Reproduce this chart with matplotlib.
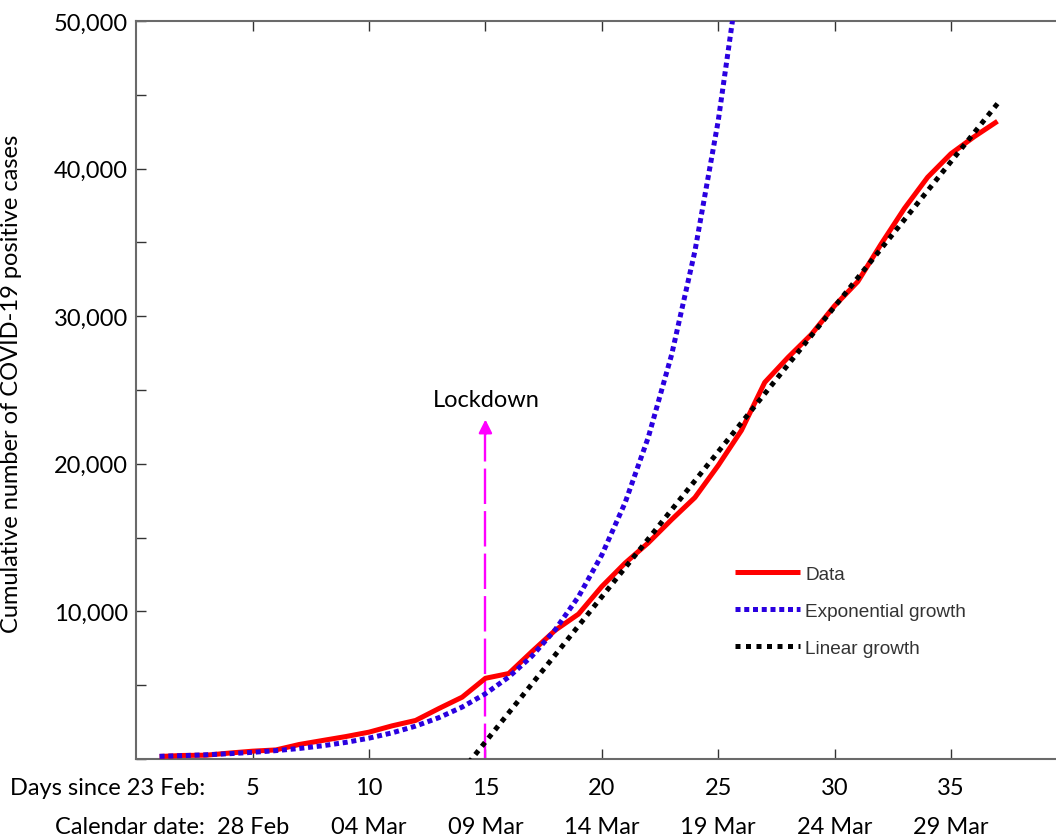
import matplotlib
matplotlib.use('Agg')
import matplotlib.pyplot as plt
import matplotlib.transforms as mtransforms

# 数据：伦巴第累计确诊 (day 1 = 24 Feb)
days = list(range(1, 38))
cases = [172, 240, 258, 403, 531, 615, 984, 1254, 1520, 1820,
         2251, 2612, 3420, 4189, 5469, 5791, 7280, 8725, 9820, 11685,
         13272, 14649, 16220, 17713, 19884, 22264, 25515, 27206, 28761, 30703,
         32346, 34889, 37298, 39415, 41007, 42161, 43208]

# exponential fit curve (days 1..26)
exp_days = list(range(1, 27))
exp_cases = [182, 228, 287, 360, 452, 568, 713, 896, 1125, 1414,
             1776, 2230, 2802, 3519, 4420, 5552, 6974, 8760, 11003, 13821,
             17360, 21806, 27390, 34405, 43215, 54282]

# linear fit curve (end points)
lin_days = [14, 37]
lin_cases = [-805, 44400]

lockdown_day = 15
lockdown_top = 23000

day_ticks = [5, 10, 15, 20, 25, 30, 35]
date_labels = ['28 Feb', '04 Mar', '09 Mar', '14 Mar', '19 Mar', '24 Mar', '29 Mar']
y_ticks = list(range(0, 50001, 5000))
y_labels = ['' if (v == 0 or v % 10000) else f'{v:,}' for v in y_ticks]

FONT = 'Lato'
FS = 17

fig = plt.figure(figsize=(10.56, 8.37), dpi=100)
ax = fig.add_axes([136.3 / 1056, 77 / 837, 931 / 1056, 738 / 837])

ax.plot(days, cases, color='#ff0000', lw=3.6, label='Data', solid_capstyle='butt', zorder=3)
ax.plot(exp_days, exp_cases, color='#2a00e0', lw=3.6, linestyle=(0, (1, 0.75)),
        label='Exponential growth', zorder=4)
ax.plot(lin_days, lin_cases, color='black', lw=3.6, linestyle=(0, (1, 1.1)),
        label='Linear growth', zorder=4)

# 封城标记
ax.plot([lockdown_day, lockdown_day], [0, lockdown_top - 900], color='#ff00ff', lw=1.7,
        dashes=(15, 3), zorder=2)
ax.annotate('', xy=(lockdown_day, lockdown_top), xytext=(lockdown_day, lockdown_top - 1000),
            arrowprops=dict(arrowstyle='-|>,head_length=0.4,head_width=0.2', color='#ff00ff',
                            lw=1.7, mutation_scale=20, shrinkA=0, shrinkB=0))
ax.text(lockdown_day + 0.05, 23920, 'Lockdown', ha='center', va='baseline',
        fontsize=FS, family=FONT)

ax.set_xlim(0, 40)
ax.set_ylim(0, 50000)

ax.set_xticks(day_ticks)
ax.set_xticklabels([])
ax.set_yticks(y_ticks)
ax.set_yticklabels(y_labels, fontsize=FS, family=FONT)
ax.tick_params(direction='in', length=7.2, width=1, color='#333333', top=True, pad=6)

for s in ax.spines.values():
    s.set_color('#6a6a6a')
    s.set_linewidth(1.5)

ax.set_ylabel('Cumulative number of COVID-19 positive cases', fontsize=FS, family=FONT)
ax.yaxis.set_label_coords(-0.1228, 0.51)

# 底部两行标签
trans = mtransforms.blended_transform_factory(ax.transData, fig.transFigure)
for d, lab in zip(day_ticks, date_labels):
    ax.text(d, 0.0502, str(d), transform=trans, ha='center', va='baseline',
            fontsize=FS, family=FONT, clip_on=False)
    ax.text(d, 0.0036, lab, transform=trans, ha='center', va='baseline',
            fontsize=FS, family=FONT, clip_on=False)
fig.text(205 / 1056, 0.0502, 'Days since 23 Feb:', ha='right', va='baseline',
         fontsize=FS, family=FONT)
fig.text(205 / 1056, 0.0036, 'Calendar date:', ha='right', va='baseline',
         fontsize=FS, family=FONT)

ax.legend(loc='center left', bbox_to_anchor=(0.643, 0.2005), frameon=False,
          borderaxespad=0, borderpad=0, handlelength=3.4, handletextpad=0.3,
          labelspacing=1.04, prop={'family': 'Liberation Sans', 'size': 13.7},
          labelcolor='#333333')

fig.savefig('out.png', dpi=100)
